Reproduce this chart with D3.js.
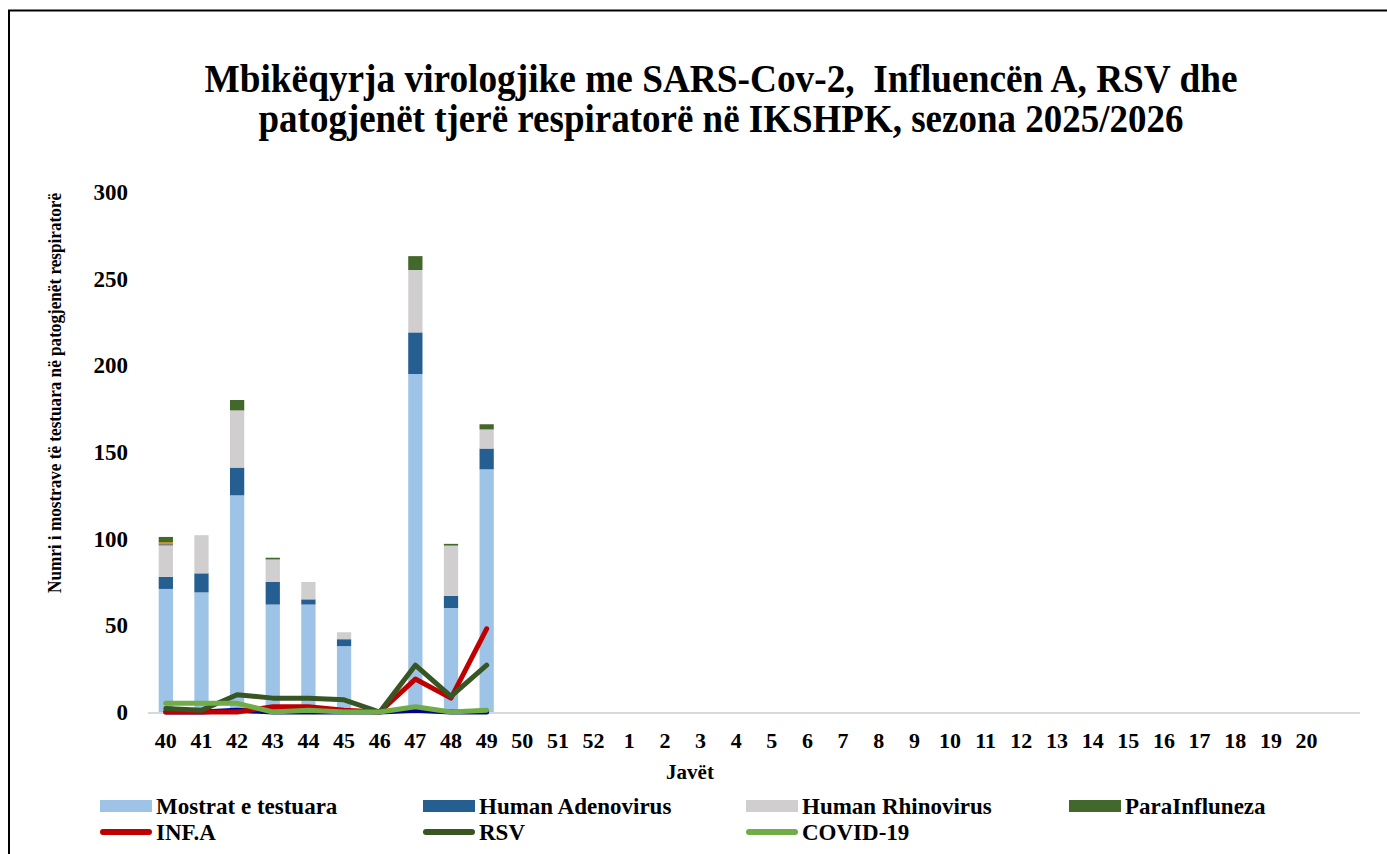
<!DOCTYPE html>
<html>
<head>
<meta charset="utf-8">
<script src="https://cdn.jsdelivr.net/npm/d3@7"></script>
<style>
  body { margin: 0; background: #fff; }
  text { font-family: "Liberation Serif", "Times New Roman", serif; font-weight: bold; fill: #000; }
</style>
</head>
<body>
<div id="chart"></div>
<script>
// weeks of the season (last slot is an empty category)
var weeks = ["40","41","42","43","44","45","46","47","48","49","50","51","52",
             "1","2","3","4","5","6","7","8","9","10","11","12","13","14","15","16","17","18","19","20",""];
var yTicks = [0, 50, 100, 150, 200, 250, 300];

// stacked bars (weeks 40-49)
var mostrat = [71, 69, 125, 62, 62, 38, 0, 195, 60, 140];
var adeno   = [7, 11, 16, 13, 3, 4, 0, 24, 7, 12];
var rhino   = [18, 22, 33, 13, 10, 4, 0, 36, 29, 11];
var otherGrey = [1, 0, 0, 0, 0, 0, 0, 0, 0, 0];
var otherGold = [1, 0, 0, 0, 0, 0, 0, 0, 0, 0];
var para    = [3, 0, 6, 1, 0, 0, 0, 8, 1, 3];

// lines (weeks 40-49)
var sars  = [0, 0, 1, 0, 0, 0, 0, 1, 0, 0];
var infA  = [0, 0, 0, 3, 3, 1, 0, 19, 8, 48];
var rsv   = [2, 1, 10, 8, 8, 7, 0, 27, 9, 27];
var covid = [5, 5, 5, 0, 1, 0, 0, 3, 0, 1];

var W = 1387, H = 854;
var svg = d3.select("#chart").append("svg")
    .attr("width", W).attr("height", H);

svg.append("rect").attr("width", W).attr("height", H).attr("fill", "#fff");
// outer frame (runs off right / bottom)
svg.append("rect")
    .attr("x", 9).attr("y", 10.5).attr("width", 1400).attr("height", 900)
    .attr("fill", "none").attr("stroke", "#000").attr("stroke-width", 2);

var x = d3.scaleBand().domain(weeks).range([148, 1360])
    .paddingInner(0.6).paddingOuter(0.3);
var y = d3.scaleLinear().domain([0, 300]).range([712, 192]);

// title (narrow, tall glyphs like the original)
svg.append("text").attr("x", 721).attr("y", 92).attr("text-anchor", "middle")
    .style("font-size", "39px").attr("xml:space", "preserve")
    .attr("textLength", 1033).attr("lengthAdjust", "spacingAndGlyphs")
    .text("Mbikëqyrja virologjike me SARS-Cov-2,  Influencën A, RSV dhe");
svg.append("text").attr("x", 721).attr("y", 132).attr("text-anchor", "middle")
    .style("font-size", "39px")
    .attr("textLength", 925).attr("lengthAdjust", "spacingAndGlyphs")
    .text("patogjenët tjerë respiratorë në IKSHPK, sezona 2025/2026");

// y axis labels
svg.append("g").selectAll("text").data(yTicks).enter().append("text")
    .attr("x", 128).attr("y", function(d){ return y(d); })
    .attr("dy", "0.35em").attr("text-anchor", "end")
    .style("font-size", "23px")
    .text(function(d){ return d; });

// x axis line
svg.append("line").attr("x1", 148).attr("x2", 1360)
    .attr("y1", y(0) + 1).attr("y2", y(0) + 1)
    .attr("stroke", "#d9d9d9").attr("stroke-width", 2);

// bars
var barKeys = ["mostrat", "adeno", "rhino", "otherGrey", "otherGold", "para"];
var barColors = {mostrat: "#9dc3e6", adeno: "#255e91", rhino: "#d0cece",
                 otherGrey: "#7f7f7f", otherGold: "#bf9000", para: "#43682b"};
var barSrc = {mostrat: mostrat, adeno: adeno, rhino: rhino,
              otherGrey: otherGrey, otherGold: otherGold, para: para};
var rows = mostrat.map(function(d, i){
    var r = {week: weeks[i]};
    barKeys.forEach(function(k){ r[k] = barSrc[k][i]; });
    return r;
});
var stacked = d3.stack().keys(barKeys)(rows);

svg.append("g").selectAll("g").data(stacked).enter().append("g")
    .attr("fill", function(s){ return barColors[s.key]; })
    .selectAll("rect").data(function(s){ return s; }).enter().append("rect")
    .attr("x", function(d){ return x(d.data.week); })
    .attr("width", x.bandwidth())
    .attr("y", function(d){ return y(d[1]); })
    .attr("height", function(d){ return y(d[0]) - y(d[1]); });

// lines
var line = d3.line()
    .x(function(d, i){ return x(weeks[i]) + x.bandwidth() / 2; })
    .y(function(d){ return y(d); });

var lineSeries = [
    {data: sars,  color: "#000090"},
    {data: infA,  color: "#c00000"},
    {data: rsv,   color: "#375623"},
    {data: covid, color: "#70ad47"}
];
svg.append("g").selectAll("path").data(lineSeries).enter().append("path")
    .attr("d", function(s){ return line(s.data); })
    .attr("fill", "none")
    .attr("stroke", function(s){ return s.color; })
    .attr("stroke-width", 5)
    .attr("stroke-linejoin", "round")
    .attr("stroke-linecap", "round");

// x tick labels
svg.append("g").selectAll("text").data(weeks).enter().append("text")
    .attr("x", function(d){ return x(d) + x.bandwidth() / 2; })
    .attr("y", 748).attr("text-anchor", "middle")
    .style("font-size", "22px")
    .text(function(d){ return d; });

// axis titles
svg.append("text").attr("x", 690).attr("y", 779).attr("text-anchor", "middle")
    .style("font-size", "21px").text("Javët");
svg.append("text").attr("transform", "translate(61,393) rotate(-90)")
    .attr("text-anchor", "middle").style("font-size", "19px")
    .attr("textLength", 400).attr("lengthAdjust", "spacingAndGlyphs")
    .text("Numri i mostrave të testuara në patogjenët respiratorë");

// legend
var legendItems = [
    {name: "Mostrat e testuara", color: "#9dc3e6", type: "rect"},
    {name: "Human Adenovirus",   color: "#255e91", type: "rect"},
    {name: "Human Rhinovirus",   color: "#d0cece", type: "rect"},
    {name: "ParaInfluneza",      color: "#43682b", type: "rect"},
    {name: "INF.A",              color: "#c00000", type: "line"},
    {name: "RSV",                color: "#375623", type: "line"},
    {name: "COVID-19",           color: "#70ad47", type: "line"}
];
var lg = svg.append("g").selectAll("g").data(legendItems).enter().append("g")
    .attr("transform", function(d, i){
        return "translate(" + (100 + (i % 4) * 323) + "," + (806 + Math.floor(i / 4) * 26) + ")";
    });
lg.filter(function(d){ return d.type === "rect"; }).append("rect")
    .attr("x", 0).attr("y", -6).attr("width", 52).attr("height", 12)
    .attr("fill", function(d){ return d.color; });
lg.filter(function(d){ return d.type === "line"; }).append("line")
    .attr("x1", 3).attr("x2", 49).attr("y1", 0).attr("y2", 0)
    .attr("stroke", function(d){ return d.color; })
    .attr("stroke-width", 6).attr("stroke-linecap", "round");
lg.append("text").attr("x", 56).attr("dy", "0.35em")
    .style("font-size", "23px")
    .text(function(d){ return d.name; });
</script>
</body>
</html>
